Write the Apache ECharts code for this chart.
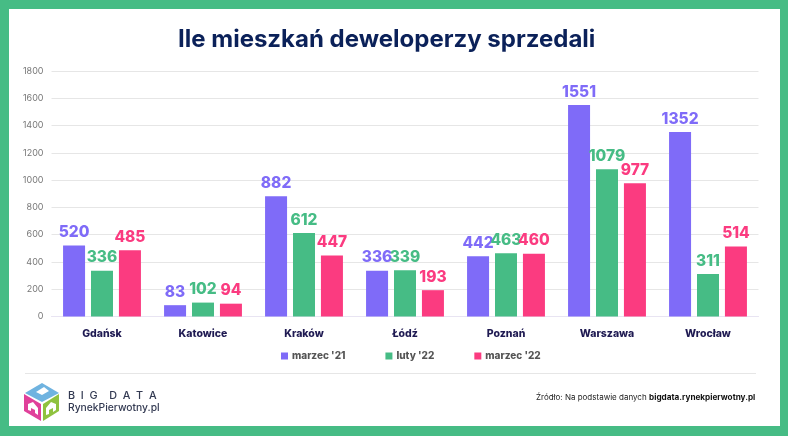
<!DOCTYPE html>
<html>
<head>
<meta charset="utf-8">
<style>html,body{margin:0;padding:0;background:#46bc85}#main{width:788px;height:436px}</style>
<script src="https://cdn.jsdelivr.net/npm/echarts@6/dist/echarts.min.js"></script>
</head>
<body>
<div id="main"></div>
<script>
var categories = ['Gdańsk', 'Katowice', 'Kraków', 'Łódź', 'Poznań', 'Warszawa', 'Wrocław'];
var seriesNames = ["marzec '21", "luty '22", "marzec '22"];
var marzec21 = [520, 83, 882, 336, 442, 1551, 1352];
var luty22 = [336, 102, 612, 339, 463, 1079, 311];
var marzec22 = [485, 94, 447, 193, 460, 977, 514];
var colors = ['#7f6bf8', '#46bc85', '#fb3b80'];
var FONT = 'Inter, "Noto Sans", sans-serif';

function makeSeries(name, data, color) {
    return {
        name: name,
        type: 'bar',
        data: data,
        barWidth: 22,
        barGap: '27%',
        itemStyle: { color: color },
        label: {
            show: true,
            position: 'top',
            distance: 5,
            color: color,
            fontFamily: FONT,
            fontWeight: 800,
            fontSize: 15.5
        }
    };
}

var chart = echarts.init(document.getElementById('main'), null, { renderer: 'canvas' });
chart.setOption({
    animation: false,
    backgroundColor: '#46bc85',
    title: {
        text: 'Ile mieszkań deweloperzy sprzedali',
        left: 178,
        top: 28,
        padding: 0,
        textStyle: { color: '#0b2159', fontFamily: FONT, fontWeight: 700, fontSize: 24 }
    },
    legend: {
        data: seriesNames,
        left: 281,
        top: 351,
        padding: 0,
        itemWidth: 7,
        itemHeight: 7,
        itemGap: 40,
        icon: 'rect',
        textStyle: { color: '#555555', fontFamily: FONT, fontWeight: 800, fontSize: 10, padding: [0, 0, 0, -1] }
    },
    grid: { left: 51.5, right: 29.5, top: 71, bottom: 119.5 },
    xAxis: {
        type: 'category',
        data: categories,
        axisTick: { show: false },
        axisLine: { lineStyle: { color: '#e8e4f2', width: 1 } },
        axisLabel: { color: '#1f1a52', fontFamily: FONT, fontWeight: 800, fontSize: 10.5, margin: 12 }
    },
    yAxis: {
        type: 'value',
        min: 0,
        max: 1800,
        interval: 200,
        axisLine: { show: false },
        axisTick: { show: false },
        splitLine: { lineStyle: { color: '#e6e6e6', width: 1 } },
        axisLabel: {
            color: '#777777',
            fontFamily: FONT,
            fontSize: 9,
            margin: 8,
            formatter: function(v) { return String(v); }
        }
    },
    series: [
        makeSeries(seriesNames[0], marzec21, colors[0]),
        makeSeries(seriesNames[1], luty22, colors[1]),
        makeSeries(seriesNames[2], marzec22, colors[2])
    ],
    graphic: [
        { type: 'rect', z: -10, silent: true, shape: { x: 9, y: 9, width: 771, height: 417 }, style: { fill: '#fff' } },
        // linia nad stopka
        { type: 'rect', shape: { x: 25, y: 373, width: 731, height: 1 }, style: { fill: '#e6e6e6' } },
        // logo
        { type: 'polygon', shape: { points: [[42, 383], [59, 393], [42, 402], [25, 393]] }, style: { fill: '#6fb3e0' } },
        { type: 'polygon', shape: { points: [[24, 394], [41, 404], [41, 421], [24, 411]] }, style: { fill: '#e0409a' } },
        { type: 'polygon', shape: { points: [[43, 404], [59, 394], [59, 411], [43, 421]] }, style: { fill: '#8fc23f' } },
        { type: 'polygon', shape: { points: [[33, 402], [38, 408], [38, 415], [35, 413], [35, 410], [31, 408], [31, 411], [28, 410], [28, 404]] }, style: { fill: '#fff' } },
        { type: 'polygon', shape: { points: [[51, 402], [56, 404], [56, 410], [53, 412], [53, 408], [49, 410], [49, 414], [46, 415], [46, 408]] }, style: { fill: '#fff' } },
        { type: 'polygon', shape: { points: [[44, 387], [49, 391], [42, 395], [36, 392]] }, style: { fill: '#fff' } },
        { type: 'text', style: { x: 68, y: 390, text: 'B  I  G    D  A  T  A', fill: '#333a52', font: '500 10.8px ' + FONT } },
        { type: 'text', style: { x: 68, y: 403, text: 'RynekPierwotny.pl', fill: '#333a52', font: '500 10.3px ' + FONT } },
        { type: 'text', style: { x: 536, y: 394, text: 'Źródło: Na podstawie danych', fill: '#222', font: '8px ' + FONT } },
        { type: 'text', style: { x: 649, y: 394, text: 'bigdata.rynekpierwotny.pl', fill: '#111', font: '700 8.2px ' + FONT } }
    ]
});
</script>
</body>
</html>
